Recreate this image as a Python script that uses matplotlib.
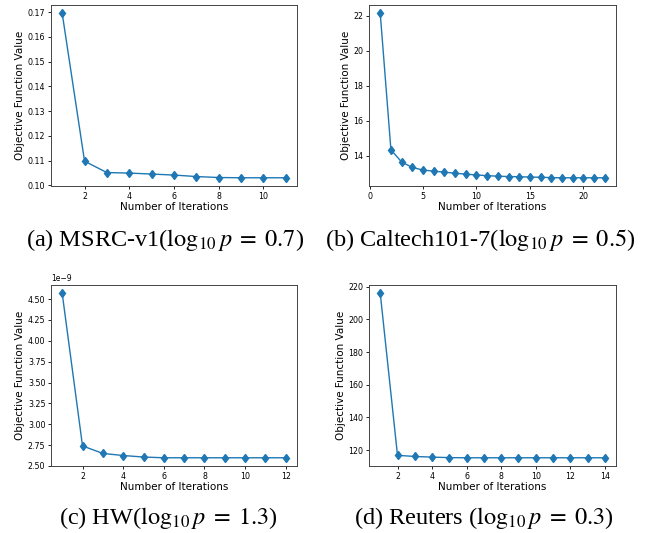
import matplotlib
matplotlib.use("Agg")
import matplotlib.pyplot as plt

plt.rcParams["mathtext.fontset"] = "stix"

# iterations and objective values
iters_msrc = list(range(1, 12))
obj_msrc = [0.1696, 0.1098, 0.1052, 0.1050, 0.1046, 0.1042, 0.1036, 0.1032, 0.1031, 0.1031, 0.1031]

iters_caltech = list(range(1, 23))
obj_caltech = [22.13, 14.34, 13.64, 13.33, 13.18, 13.12, 13.06, 13.00, 12.95, 12.90, 12.86,
               12.83, 12.81, 12.80, 12.78, 12.77, 12.75, 12.74, 12.74, 12.74, 12.74, 12.74]

iters_hw = list(range(1, 13))
obj_hw = [4.57e-9, 2.74e-9, 2.65e-9, 2.625e-9, 2.607e-9, 2.598e-9, 2.598e-9, 2.598e-9,
          2.598e-9, 2.598e-9, 2.598e-9, 2.598e-9]

iters_reuters = list(range(1, 15))
obj_reuters = [216.0, 116.8, 116.1, 115.7, 115.4, 115.3, 115.3, 115.3, 115.3, 115.3,
               115.3, 115.3, 115.3, 115.3]

captions = [
    r"(a) MSRC-v1($\log_{10} p\;=\;0.7$)",
    r"(b) Caltech101-7($\log_{10} p\;=\;0.5$)",
    r"(c) HW($\log_{10} p\;=\;1.3$)",
    r"(d) Reuters ($\log_{10} p\;=\;0.3$)",
]

W, H = 664, 533
fig = plt.figure(figsize=(W / 100, H / 100), dpi=100)


def px_axes(left, top, right, bottom):
    return fig.add_axes([left / W, 1 - bottom / H, (right - left) / W, (bottom - top) / H])


panels = [
    (px_axes(51, 5, 297, 186), iters_msrc, obj_msrc),
    (px_axes(369, 5, 616, 186), iters_caltech, obj_caltech),
    (px_axes(51, 285, 297, 466), iters_hw, obj_hw),
    (px_axes(369, 285, 616, 466), iters_reuters, obj_reuters),
]

for ax, x, y in panels:
    ax.plot(x, y, marker="d", markersize=4.5, color="tab:blue", linewidth=1)
    ax.set_xlabel("Number of Iterations", fontsize=7.5, labelpad=1)
    ax.set_ylabel("Objective Function Value", fontsize=7.5, labelpad=2)
    ax.tick_params(labelsize=5.7, length=2.5, width=0.6, pad=1.5)
    for s in ax.spines.values():
        s.set_linewidth(0.7)
        s.set_color("#444444")
    ax.yaxis.get_offset_text().set_fontsize(5.5)

panels[1][0].set_xticks([0, 5, 10, 15, 20])

# subfigure captions
cap_pos = [(165, 240), (480, 240), (168, 518), (484, 518)]
for (cx, cy), text in zip(cap_pos, captions):
    fig.text(cx / W, 1 - cy / H, text, ha="center", va="center",
             fontsize=17.5, family="Liberation Serif")

fig.savefig("out.png", dpi=100)
